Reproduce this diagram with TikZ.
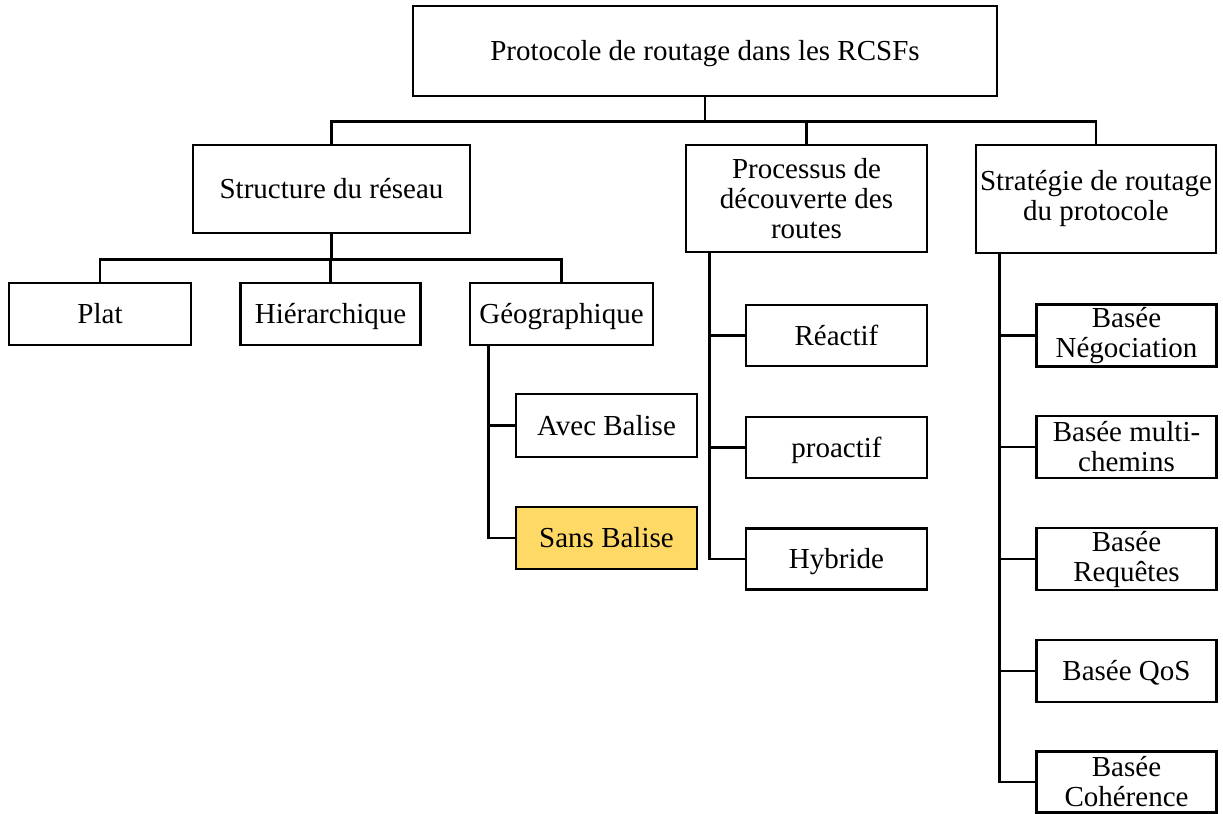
\documentclass[tikz,border=0pt]{standalone}
\usepackage{fontspec}
\setmainfont{Liberation Serif}
\usetikzlibrary{positioning}
\definecolor{jaune}{RGB}{255,217,102}
\tikzstyle{boite}=[draw, line width=1.3pt, inner sep=0pt, align=center, font=\fontsize{14.5}{15}\selectfont]
\tikzstyle{feuille}=[boite, minimum width=90.5pt, minimum height=31pt]
\tikzstyle{ligne}=[text height=11.5pt, text depth=2pt]
\tikzstyle{lien}=[line width=1.3pt]

\begin{document}
\begin{tikzpicture}[x=0.5pt, y=-0.5pt]
	\useasboundingbox (0,0) rectangle (1223,814);
	% racine et premier niveau
	\node[boite, ligne, minimum width=292pt, minimum height=45pt] (root) at (705,51) {Protocole de routage dans les RCSFs};
	\node[boite, ligne, minimum width=138.5pt, minimum height=44pt] (struct) at (331.5,189) {Structure du réseau};
	\node[boite, minimum width=120.5pt, minimum height=53.5pt] (decouv) at (806.5,198.5) {Processus de\\découverte des\\routes};
	\node[boite, minimum width=120pt, minimum height=54pt] (strat) at (1096,199) {Stratégie de routage\\du protocole};
	% structure du reseau
	\node[feuille, ligne, minimum width=91pt] (plat) at (100,314) {Plat};
	\node[feuille, ligne, minimum width=90pt] (hier) at (330.5,314) {Hiérarchique};
	\node[feuille, ligne, minimum width=91.5pt] (geo) at (561.5,314) {Géographique};
	\node[feuille, ligne, minimum height=31.5pt] (avec) at (606.5,425.5) {Avec Balise};
	\node[feuille, ligne, fill=jaune] (sans) at (606.5,538) {Sans Balise};
	% decouverte des routes
	\node[feuille, ligne, minimum height=30.5pt] (reactif) at (836.5,335.5) {Réactif};
	\node[feuille, ligne, minimum height=30.5pt] (proactif) at (836.5,447.5) {proactif};
	\node[feuille, ligne, minimum height=30.5pt] (hybride) at (836.5,559) {Hybride};
	% strategie de routage
	\node[feuille, minimum width=90pt] (nego) at (1126.5,335.5) {Basée\\Négociation};
	\node[feuille, minimum width=90pt] (multi) at (1126.5,447) {Basée multi-\\chemins};
	\node[feuille, minimum width=90pt] (req) at (1126.5,559) {Basée\\Requêtes};
	\node[feuille, ligne, minimum width=90pt] (qos) at (1126.5,671) {Basée QoS};
	\node[feuille, minimum width=90pt, minimum height=30.5pt] (coh) at (1126.5,782) {Basée\\Cohérence};
	% liens
	\foreach \n in {struct,decouv,strat}
		\draw[lien] (root.south) -- ++(0,24) -| (\n.north);
	\foreach \n in {plat,hier,geo}
		\draw[lien] (struct.south) -- ++(0,25) -| (\n.north);
	\foreach \n in {avec,sans}
		\draw[lien] ([xshift=10pt]geo.south west) |- (\n.west);
	\foreach \n in {reactif,proactif,hybride}
		\draw[lien] ([xshift=12.5pt]decouv.south west) |- (\n.west);
	\foreach \n in {nego,multi,req,qos,coh}
		\draw[lien] ([xshift=12.5pt]strat.south west) |- (\n.west);
\end{tikzpicture}
\end{document}
